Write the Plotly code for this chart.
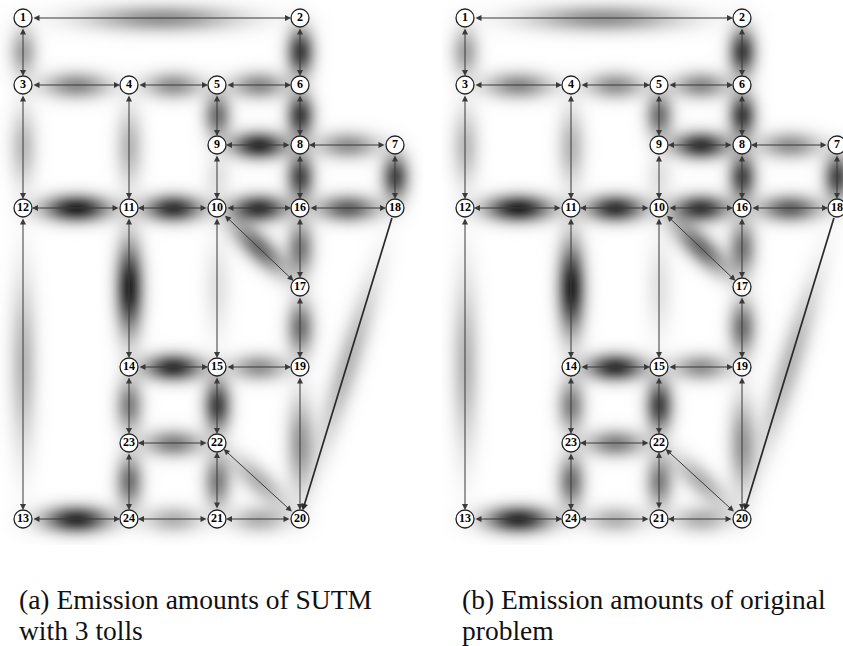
import numpy as np
import plotly.graph_objects as go

# ---------------- data ----------------
node_ids = list(range(1, 25))
node_x = [23, 300, 23, 129, 217, 300, 395, 300, 217, 217, 129, 23,
          23, 129, 217, 300, 300, 395, 300, 300, 217, 217, 129, 129]
node_y = [18, 18, 85, 85, 85, 85, 145, 145, 145, 208, 208, 208,
          519, 367, 367, 208, 287, 208, 367, 519, 519, 443, 443, 519]

link_from = [1, 1, 2, 3, 3, 4, 4, 5, 5, 6, 7, 7, 8, 8, 9, 10, 10, 10, 10,
             11, 11, 12, 13, 14, 14, 15, 15, 16, 16, 17, 18, 19, 20, 20, 21, 21, 22, 23]
link_to = [2, 3, 6, 4, 12, 5, 11, 6, 9, 8, 8, 18, 9, 16, 10, 11, 15, 16, 17,
           12, 14, 13, 24, 15, 23, 19, 22, 17, 18, 19, 20, 20, 21, 22, 22, 24, 23, 24]

# relative emission per link (darkness of the blur)
emission_a = [0.45, 0.38, 0.80, 0.48, 0.28, 0.45, 0.30, 0.48, 0.58, 0.80, 0.45, 0.75, 0.88,
              0.76, 0.12, 0.85, 0.12, 0.85, 0.60, 0.92, 0.92, 0.30, 0.88, 0.86, 0.52, 0.45,
              0.78, 0.55, 0.65, 0.58, 0.30, 0.42, 0.32, 0.32, 0.52, 0.32, 0.52, 0.58]
emission_b = [0.45, 0.38, 0.80, 0.48, 0.28, 0.45, 0.30, 0.48, 0.58, 0.80, 0.45, 0.75, 0.85,
              0.76, 0.12, 0.85, 0.12, 0.83, 0.60, 0.92, 0.92, 0.30, 0.88, 0.86, 0.52, 0.45,
              0.78, 0.55, 0.65, 0.58, 0.30, 0.42, 0.32, 0.32, 0.52, 0.32, 0.52, 0.58]

captions_a = ["(a) Emission amounts of SUTM", "with 3 tolls"]
captions_b = ["(b) Emission amounts of original", "problem"]

# ---------------- figure ----------------
W, H = 843, 646
pos = {n: (x, y) for n, x, y in zip(node_ids, node_x, node_y)}

gx = np.arange(0, 424, 2.0)
gy = np.arange(0, 546, 2.0)
GX, GY = np.meshgrid(gx, gy)


def blur_field(em):
    Z = np.zeros_like(GX)
    for f, t, e in zip(link_from, link_to, em):
        x0, y0 = pos[f]
        x1, y1 = pos[t]
        L = np.hypot(x1 - x0, y1 - y0)
        ux, uy = (x1 - x0) / L, (y1 - y0) / L
        mx, my = (x0 + x1) / 2, (y0 + y1) / 2
        dx, dy = GX - mx, GY - my
        a = dx * ux + dy * uy
        p = -dx * uy + dy * ux
        sa = 0.17 * L + 5
        sp = 9.5
        Z += e * np.exp(-0.5 * (a / sa) ** 2 - 0.5 * (p / sp) ** 2)
    return np.round(np.clip(Z, 0, 1), 3)


serif = "Liberation Serif, Times New Roman, Tinos, DejaVu Serif, serif"

fig = go.Figure()
panels = [("x", "y", emission_a), ("x2", "y2", emission_b)]
annotations = []
for xa, ya, em in panels:
    fig.add_trace(go.Heatmap(x=gx, y=gy, z=blur_field(em), zmin=0, zmax=1,
                             colorscale=[[0, "#ffffff"], [1, "#111111"]],
                             showscale=False, zsmooth="best", hoverinfo="skip",
                             xaxis=xa, yaxis=ya))
    fig.add_trace(go.Scatter(x=node_x, y=node_y, mode="markers+text",
                             marker=dict(size=18, color="white",
                                         line=dict(color="#222222", width=1.3)),
                             text=["<b>%d</b>" % n for n in node_ids],
                             textposition="middle center",
                             textfont=dict(family=serif, size=12, color="black"),
                             hoverinfo="skip", showlegend=False, xaxis=xa, yaxis=ya))
    for f, t in zip(link_from, link_to):
        oneway = (f, t) == (18, 20)
        annotations.append(dict(
            x=pos[t][0], y=pos[t][1], ax=pos[f][0], ay=pos[f][1],
            xref=xa, yref=ya, axref=xa, ayref=ya, text="", showarrow=True,
            arrowhead=2, startarrowhead=2,
            arrowsize=0.8 if oneway else 1.2, startarrowsize=1.2,
            arrowside="end" if oneway else "end+start",
            arrowwidth=1.7 if oneway else 1.0,
            arrowcolor="#2a2a2a" if oneway else "#3a3a3a",
            standoff=9, startstandoff=9))

cap_font = dict(family=serif, size=27.5, color="#111111")
for caps, x0 in ((captions_a, 17), (captions_b, 460)):
    for i, c in enumerate(caps):
        annotations.append(dict(x=x0 / W, y=1 - (599 + 31 * i) / H, xref="paper", yref="paper",
                                xanchor="left", yanchor="middle", text=c, showarrow=False,
                                font=cap_font))

ax_common = dict(visible=False, showgrid=False, zeroline=False, fixedrange=True)
fig.update_layout(
    width=W, height=H, margin=dict(l=0, r=0, t=0, b=0),
    paper_bgcolor="white", plot_bgcolor="white", showlegend=False,
    xaxis=dict(domain=[0, 423 / W], range=[0, 423], anchor="y", **ax_common),
    yaxis=dict(domain=[0, 1], range=[H, 0], anchor="x", **ax_common),
    xaxis2=dict(domain=[442 / W, 1], range=[0, 401], anchor="y2", **ax_common),
    yaxis2=dict(domain=[0, 1], range=[H, 0], anchor="x2", **ax_common),
    annotations=annotations,
)

fig.write_html("out.html")
